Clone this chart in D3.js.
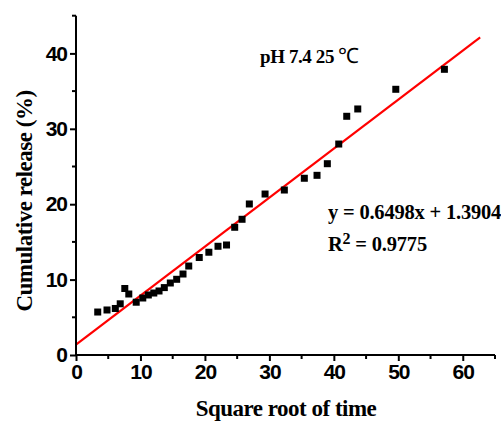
<!DOCTYPE html>
<html><head><meta charset="utf-8">
<script src="https://cdn.jsdelivr.net/npm/d3@7"></script>
<style>body{margin:0;background:#fff}svg{display:block}</style>
</head><body>
<svg id="c" width="501" height="421"></svg>
<script>
const xValues = [3.37,4.81,6.10,6.86,7.57,8.19,9.34,10.36,11.22,12.07,12.88,13.70,14.63,15.62,16.60,17.49,19.12,20.61,22.03,23.35,24.62,25.76,26.89,29.33,32.32,35.42,37.39,38.99,40.76,42.00,43.71,49.61,57.15];
const yValues = [5.70,5.97,6.17,6.79,8.82,8.09,7.00,7.56,7.96,8.22,8.49,8.94,9.55,10.04,10.74,11.80,12.93,13.63,14.42,14.59,16.94,18.00,20.03,21.35,21.88,23.44,23.83,25.37,27.98,31.66,32.63,35.24,37.89];
const fitSlope = 0.6498, fitIntercept = 1.3904;
const fitRange = [0, 62.7];
const xTicks = [0,10,20,30,40,50,60];
const yTicks = [0,10,20,30,40];
const xMinor = [5,15,25,35,45,55,65];
const yMinor = [5,15,25,35,45];
const titleText = "pH 7.4 25 ";
const eqText = "y = 0.6498x + 1.3904";
const r2Text = "= 0.9775";

const svg = d3.select("#c");
const x = d3.scaleLinear().domain([0,65]).range([76,495]);
const y = d3.scaleLinear().domain([0,45]).range([355,15.7]);
const tickFont = "'Liberation Sans', Arial, sans-serif";
const serif = "'Liberation Serif', 'Times New Roman', serif";

// red fit line
svg.append("line")
  .attr("x1", x(fitRange[0])).attr("y1", y(fitSlope*fitRange[0]+fitIntercept))
  .attr("x2", x(fitRange[1])).attr("y2", y(fitSlope*fitRange[1]+fitIntercept))
  .attr("stroke", "#ff0000").attr("stroke-width", 2.2);

// points
const pts = xValues.map((v,i)=>[v,yValues[i]]);
svg.append("g").selectAll("rect").data(pts).enter().append("rect")
  .attr("x", d=>x(d[0])-3.5).attr("y", d=>y(d[1])-3.5)
  .attr("width",7).attr("height",7).attr("fill","#000");

// axes
const xAxis = d3.axisBottom(x).tickValues(xTicks).tickSize(6).tickPadding(3).tickFormat(d3.format("d"));
const yAxis = d3.axisLeft(y).tickValues(yTicks).tickSize(6).tickPadding(3).tickFormat(d3.format("d"));
const gx = svg.append("g").attr("transform","translate(0,355)").call(xAxis);
const gy = svg.append("g").attr("transform","translate(76,0)").call(yAxis);
gx.append("g").selectAll("line").data(xMinor).enter().append("line")
  .attr("x1",d=>x(d)).attr("x2",d=>x(d)).attr("y1",0).attr("y2",4).attr("stroke","#000").attr("stroke-width",2);
gy.append("g").selectAll("line").data(yMinor).enter().append("line")
  .attr("y1",d=>y(d)).attr("y2",d=>y(d)).attr("x1",0).attr("x2",-4).attr("stroke","#000").attr("stroke-width",2);
[gx,gy].forEach(g=>{
  g.select(".domain").attr("stroke","#000").attr("stroke-width",2);
  g.selectAll(".tick line").attr("stroke","#000").attr("stroke-width",2);
  g.selectAll(".tick text").attr("fill","#000").attr("font-family",tickFont)
    .attr("font-weight","bold").attr("font-size","21px").attr("letter-spacing","-1px");
});
gx.select(".domain").attr("d","M76,0H495");
gy.select(".domain").attr("d","M0,355V15.7");

// axis titles
svg.append("text").attr("x",286).attr("y",416).attr("text-anchor","middle")
  .attr("font-family",serif).attr("font-weight","bold").attr("font-size","23px")
  .attr("letter-spacing","-0.5px").text("Square root of time");
svg.append("text").attr("transform","translate(32,201) rotate(-90)").attr("text-anchor","middle")
  .attr("font-family",serif).attr("font-weight","bold").attr("font-size","23px")
  .attr("letter-spacing","-0.5px").text("Cumulative release (%)");

// annotation
const t = svg.append("text").attr("x",260).attr("y",63)
  .attr("font-family",serif).attr("font-weight","bold").attr("font-size","19px").attr("letter-spacing","-0.4px");
t.append("tspan").text(titleText);
t.append("tspan").attr("font-weight","normal").attr("font-size","21px").text("\u2103");

svg.append("text").attr("x",328).attr("y",219)
  .attr("font-family",serif).attr("font-weight","bold").attr("font-size","20.5px").attr("letter-spacing","-0.2px")
  .text(eqText);
const r2 = svg.append("text").attr("x",328).attr("y",251)
  .attr("font-family",serif).attr("font-weight","bold").attr("font-size","20.5px").attr("letter-spacing","-0.2px");
r2.append("tspan").text("R");
r2.append("tspan").attr("font-size","16px").attr("dy","-7").text("2");
r2.append("tspan").attr("dy","7").text(" " + r2Text);
</script>
</body></html>
